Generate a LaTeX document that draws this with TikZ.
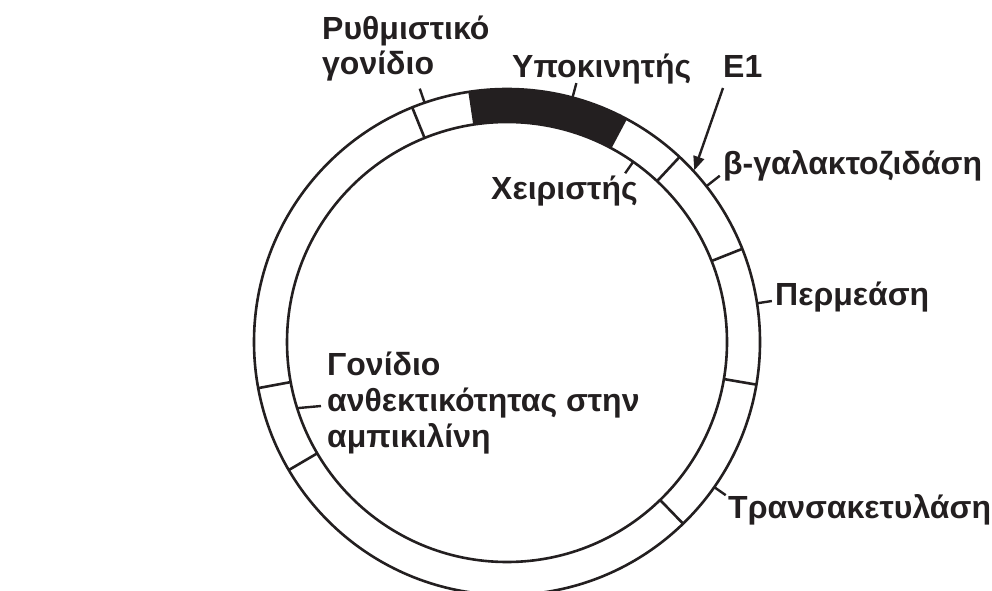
\documentclass[tikz,border=0pt]{standalone}
\usepackage{fontspec}
\setmainfont{Liberation Sans}
\usetikzlibrary{arrows.meta,calc}
\definecolor{ink}{HTML}{231F20}
\begin{document}
\begin{tikzpicture}[x=1pt,y=1pt,
  ring/.style={line width=2.6pt, draw=ink},
  tick/.style={line width=2.4pt, draw=ink},
  lbl/.style={font=\bfseries\fontsize{32}{38}\selectfont, anchor=base west, inner sep=0pt, text=ink},
  ]
\useasboundingbox (0,0) rectangle (992,590);
\coordinate (C) at (507,248);
\def\Ro{253}
\def\Ri{220}
% promoter band (black)
\fill[ink] ($(C)+(62:\Ro)$) arc[start angle=62,end angle=98.5,radius=\Ro]
  -- ($(C)+(98.5:\Ri)$) arc[start angle=98.5,end angle=62,radius=\Ri] -- cycle;
% circles
\draw[ring] (C) circle[radius=\Ro];
\draw[ring] (C) circle[radius=\Ri];
% dividers
\foreach \a in {112,98.5,62,47,21.6,-9.7,-45.9,190.5,210.4}
  \draw[ring] ($(C)+(\a:\Ri)$) -- ($(C)+(\a:\Ro)$);
% labels
\node[lbl] (reg1) at (322,550) {Ρυθμιστικό};
\node[lbl] (reg2) at (322,515) {γονίδιο};
\node[lbl] (prom) at (512,512) {Υποκινητής};
\node[lbl] (e1) at (723,512) {Ε1};
\node[lbl] (bgal) at (723,415) {β-γαλακτοζιδάση};
\node[lbl] (oper) at (491,391) {Χειριστής};
\node[lbl] (perm) at (775,285) {Περμεάση};
\node[lbl] (amp1) at (327,215) {Γονίδιο};
\node[lbl] (amp2) at (327,179) {ανθεκτικότητας στην};
\node[lbl] (amp3) at (327,143) {αμπικιλίνη};
\node[lbl] (trans) at (728,72) {Τρανσακετυλάση};
% tick coordinates
\coordinate (tReg) at ($(C)+(109:\Ro)$);
\coordinate (tRegE) at ($(C)+(109:268)$);
\coordinate (tProm) at ($(C)+(75:\Ro)$);
\coordinate (tPromE) at ($(C)+(75:268)$);
\coordinate (tBgal) at ($(C)+(38:\Ro)$);
\coordinate (tBgalE) at ($(C)+(38:270)$);
\coordinate (tPerm) at ($(C)+(8.8:\Ro)$);
\coordinate (tPermE) at ($(C)+(8.8:268)$);
\coordinate (tTrans) at ($(C)+(-35:\Ro)$);
\coordinate (tTransE) at ($(C)+(-35:267)$);
\coordinate (tOper) at ($(C)+(55:\Ri)$);
\coordinate (tOperE) at ($(C)+(55:206)$);
\coordinate (tAmp) at ($(C)+(197.5:\Ri)$);
\coordinate (tAmpE) at (321,184);
\coordinate (e1tail) at (723,502);
\coordinate (e1tip) at ($(C)+(42.5:254)$);
\draw[tick] (tReg) -- (tRegE);
\draw[tick] (tProm) -- (tPromE);
\draw[tick] (tBgal) -- (tBgalE);
\draw[tick] (tPerm) -- (tPermE);
\draw[tick] (tTrans) -- (tTransE);
\draw[tick] (tOper) -- (tOperE);
\draw[tick] (tAmp) -- (tAmpE);
\draw[tick,-{Triangle[length=14pt,width=11pt]}] (e1tail) -- (e1tip);
\end{tikzpicture}
\end{document}
